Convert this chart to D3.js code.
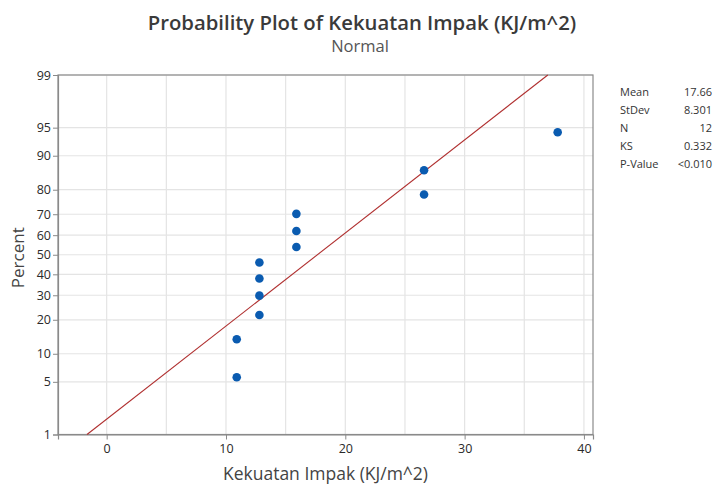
<!DOCTYPE html>
<html><head><meta charset="utf-8">
<script src="https://cdn.jsdelivr.net/npm/d3@7/dist/d3.min.js"></script>
<style>body{margin:0;background:#fff}svg{display:block}</style>
</head><body>
<svg id="c" width="722" height="486"></svg>
<script>
// Data (sorted observations; Minitab median ranks are applied)
const values = [10.9, 10.9, 12.8, 12.8, 12.8, 12.8, 15.9, 15.9, 15.9, 26.6, 26.6, 37.8];
const percentTicks = [1, 5, 10, 20, 30, 40, 50, 60, 70, 80, 90, 95, 99];
const xTicks = [0, 10, 20, 30, 40];
const xGrid = [0, 5, 10, 15, 20, 25, 30, 35, 40];
const statLabels = ["Mean", "StDev", "N", "KS", "P-Value"];
const statValues = ["17.66", "8.301", "12", "0.332", "<0.010"];
const fitMean = 17.66, fitSd = 8.301;

// inverse normal CDF (Acklam)
function qnorm(p){
  const a=[-3.969683028665376e+01,2.209460984245205e+02,-2.759285104469687e+02,1.383577518672690e+02,-3.066479806614716e+01,2.506628277459239e+00];
  const b=[-5.447609879822406e+01,1.615858368580409e+02,-1.556989798598866e+02,6.680131188771972e+01,-1.328068155288572e+01];
  const c=[-7.784894002430293e-03,-3.223964580411365e-01,-2.400758277161838e+00,-2.549671010656650e+00,4.374664141464968e+00,2.938163982698783e+00];
  const d=[7.784695709041462e-03,3.224671290700398e-01,2.445134137142996e+00,3.754408661907416e+00];
  const pl=0.02425, ph=1-pl; let q,r;
  if(p<pl){q=Math.sqrt(-2*Math.log(p));return (((((c[0]*q+c[1])*q+c[2])*q+c[3])*q+c[4])*q+c[5])/((((d[0]*q+d[1])*q+d[2])*q+d[3])*q+1);}
  if(p<=ph){q=p-0.5;r=q*q;return (((((a[0]*r+a[1])*r+a[2])*r+a[3])*r+a[4])*r+a[5])*q/(((((b[0]*r+b[1])*r+b[2])*r+b[3])*r+b[4])*r+1);}
  q=Math.sqrt(-2*Math.log(1-p));return -(((((c[0]*q+c[1])*q+c[2])*q+c[3])*q+c[4])*q+c[5])/((((d[0]*q+d[1])*q+d[2])*q+d[3])*q+1);
}

const svg = d3.select("#c");
const L=58, R=593, T=75, B=434.5;
const x = d3.scaleLinear().domain([-4.08, 40.76]).range([L, R]);
const y = d3.scaleLinear().domain([qnorm(0.01), qnorm(0.99)]).range([B, T]);
const font = "'Open Sans', 'Noto Sans', sans-serif";

// grid
svg.append("g").selectAll("line").data(xGrid).join("line")
  .attr("x1", d=>x(d)).attr("x2", d=>x(d)).attr("y1", T).attr("y2", B)
  .attr("stroke", "#e4e4e4").attr("stroke-width", 1.2);
svg.append("g").selectAll("line").data(percentTicks).join("line")
  .attr("x1", L).attr("x2", R).attr("y1", d=>y(qnorm(d/100))).attr("y2", d=>y(qnorm(d/100)))
  .attr("stroke", "#e4e4e4").attr("stroke-width", 1.2);

// frame
svg.append("rect").attr("x", L).attr("y", T).attr("width", R-L).attr("height", B-T)
  .attr("fill", "none").attr("stroke", "#8a8a8a").attr("stroke-width", 1.2);

// axes
const yAxis = d3.axisLeft(d3.scaleLinear().domain(y.domain()).range(y.range()))
  .tickValues(percentTicks.map(p=>qnorm(p/100))).tickFormat((d,i)=>percentTicks[i]).tickSize(5).tickPadding(2);
const gy = svg.append("g").attr("transform", `translate(${L},0)`).call(yAxis);
const xAxis = d3.axisBottom(x).tickValues(xTicks).tickSize(5).tickPadding(5);
const gx = svg.append("g").attr("transform", `translate(0,${B})`).call(xAxis);
[gx, gy].forEach(g=>{
  g.select(".domain").attr("stroke", "#8a8a8a").attr("stroke-width", 1.2);
  g.selectAll(".tick line").attr("stroke", "#8a8a8a");
  g.selectAll("text").attr("font-family", font).attr("font-size", 12.5).attr("fill", "#2a2a2a");
});

// fitted line
const p1 = 0.01, p2 = 0.99;
svg.append("line")
  .attr("x1", x(fitMean + fitSd*qnorm(p1))).attr("y1", y(qnorm(p1)))
  .attr("x2", x(fitMean + fitSd*qnorm(p2))).attr("y2", y(qnorm(p2)))
  .attr("stroke", "#b03030").attr("stroke-width", 1.1);

// points
const n = values.length;
svg.append("g").selectAll("circle").data(values).join("circle")
  .attr("cx", d=>x(d)).attr("cy", (d,i)=>y(qnorm((i+1-0.3)/(n+0.4))))
  .attr("r", 4.3).attr("fill", "#0a5bb0");

// titles
svg.append("text").attr("x", 362).attr("y", 30).attr("text-anchor", "middle")
  .attr("font-family", font).attr("font-weight", 600).attr("font-size", 20.3).attr("fill", "#3a3a3a")
  .text("Probability Plot of Kekuatan Impak (KJ/m^2)");
svg.append("text").attr("x", 360).attr("y", 52).attr("text-anchor", "middle")
  .attr("font-family", font).attr("font-size", 16.5).attr("fill", "#555")
  .text("Normal");
svg.append("text").attr("x", (L+R)/2).attr("y", 480).attr("text-anchor", "middle")
  .attr("font-family", font).attr("font-size", 17.5).attr("fill", "#444")
  .text("Kekuatan Impak (KJ/m^2)");
svg.append("text").attr("transform", `translate(24,${(T+B)/2+3}) rotate(-90)`).attr("text-anchor", "middle")
  .attr("font-family", font).attr("font-size", 17).attr("fill", "#444")
  .text("Percent");

// stats
const sg = svg.append("g").attr("font-family", font).attr("font-size", 11).attr("fill", "#333");
sg.selectAll("text.l").data(statLabels).join("text").attr("class","l")
  .attr("x", 620).attr("y", (d,i)=>96+i*18).text(d=>d);
sg.selectAll("text.v").data(statValues).join("text").attr("class","v")
  .attr("x", 712).attr("y", (d,i)=>96+i*18).attr("text-anchor","end").text(d=>d);
</script>
</body></html>
